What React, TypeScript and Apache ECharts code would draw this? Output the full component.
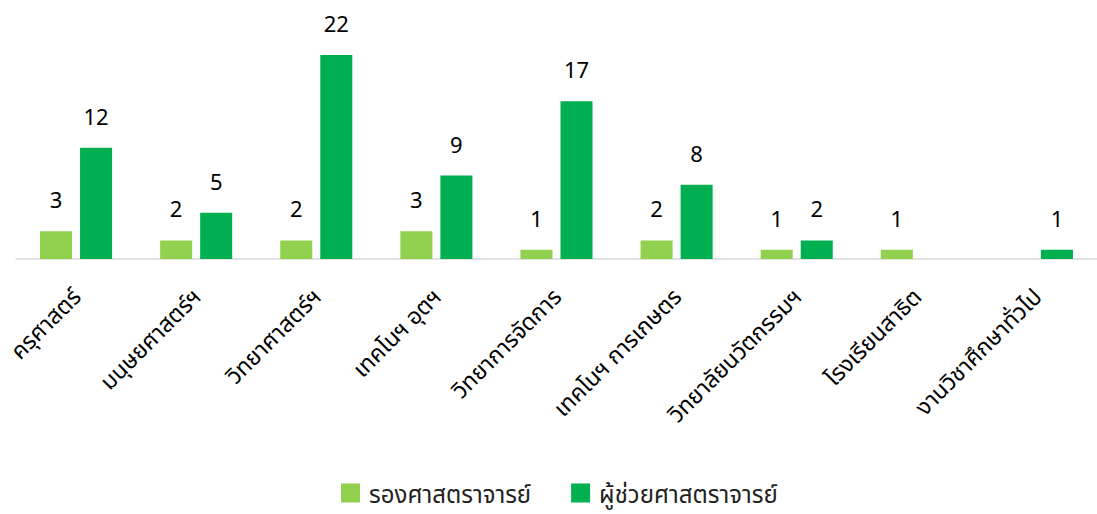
import React, { useEffect, useRef } from "react";
import * as echarts from "echarts";

const categories = [
  "ครุศาสตร์",
  "มนุษยศาสตร์ฯ",
  "วิทยาศาสตร์ฯ",
  "เทคโนฯ อุตฯ",
  "วิทยาการจัดการ",
  "เทคโนฯ การเกษตร",
  "วิทยาลัยนวัตกรรมฯ",
  "โรงเรียนสาธิต",
  "งานวิชาศึกษาทั่วไป",
];
const seriesNames = ["รองศาสตราจารย์", "ผู้ช่วยศาสตราจารย์"];
const associateProf = [3, 2, 2, 3, 1, 2, 1, 1, null];
const assistantProf = [12, 5, 22, 9, 17, 8, 2, null, 1];

const FONT = "'Noto Sans', 'Noto Sans Thai', Tahoma, sans-serif";

export default function App() {
  const ref = useRef<HTMLDivElement>(null);
  useEffect(() => {
    if (!ref.current) return;
    const chart = echarts.init(ref.current, null, { renderer: "svg" });
    const label = {
      show: true,
      position: "top" as const,
      distance: 21,
      fontSize: 22,
      color: "#000",
      fontFamily: FONT,
    };
    chart.setOption({
      animation: false,
      backgroundColor: "#fff",
      grid: { left: 16, top: 55, width: 1090, height: 204 },
      legend: {
        bottom: 4,
        left: 336,
        itemWidth: 19,
        itemHeight: 19,
        itemGap: 40,
        icon: "rect",
        textStyle: {
          fontSize: 24,
          color: "#222",
          fontFamily: FONT,
          padding: [0, 0, 0, 4],
        },
        data: seriesNames,
      },
      xAxis: {
        type: "category",
        data: categories,
        axisLine: { lineStyle: { color: "#d9d9d9", width: 1.5 } },
        axisTick: { show: false },
        axisLabel: {
          rotate: 45,
          interval: 0,
          margin: 33,
          fontSize: 23,
          color: "#000",
          fontFamily: FONT,
        },
      },
      yAxis: {
        type: "value",
        min: 0,
        max: 22,
        show: false,
        splitLine: { show: false },
      },
      series: [
        {
          name: seriesNames[0],
          type: "bar",
          data: associateProf,
          itemStyle: { color: "#92D050" },
          barGap: "25%",
          barCategoryGap: "40%",
          label,
        },
        {
          name: seriesNames[1],
          type: "bar",
          data: assistantProf,
          itemStyle: { color: "#00B050" },
          barGap: "25%",
          barCategoryGap: "40%",
          label,
        },
      ],
    });
    return () => chart.dispose();
  }, []);
  return (
    <div
      ref={ref}
      style={{ position: "absolute", left: 0, top: 0, width: 1097, height: 514 }}
    />
  );
}
